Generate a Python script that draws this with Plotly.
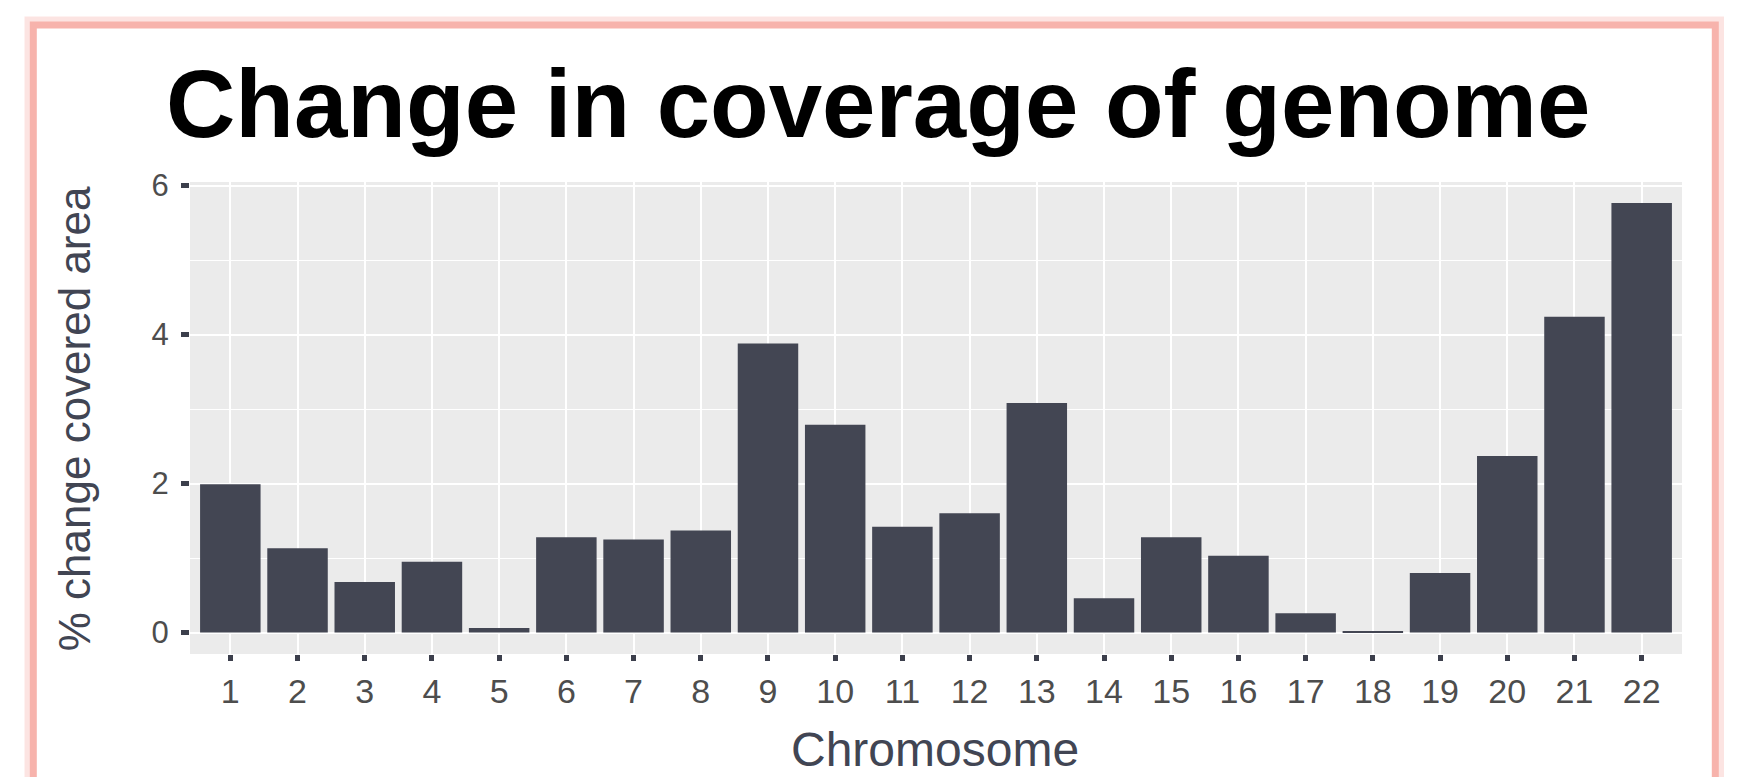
import plotly.graph_objects as go

chromosomes = list(range(1, 23))
pct_change = [1.99, 1.13, 0.68, 0.95, 0.06, 1.28, 1.25, 1.37, 3.88, 2.79, 1.42,
              1.60, 3.08, 0.46, 1.28, 1.03, 0.26, 0.01, 0.80, 2.37, 4.24, 5.765]
y_ticks = [0, 2, 4, 6]
y_minor = [1, 3, 5]

W, H = 1745, 777
L, R, T, B = 190, 1682, 182, 654   # plot area in pixels


def px(x):
    return (x - L) / (R - L)


def py(y):
    return (B - y) / (B - T)


BAR = "#434653"
TXT = "#4D4D4D"
TITLE_C = "#414553"

fig = go.Figure(go.Bar(x=chromosomes, y=pct_change, width=0.9,
                       marker=dict(color=BAR, line=dict(width=0))))

fig.update_layout(
    width=W, height=H,
    margin=dict(l=L, r=W - R, t=T, b=H - B, pad=0),
    paper_bgcolor="white", plot_bgcolor="#EBEBEB",
    showlegend=False,
    font=dict(family="Liberation Sans, Arial, sans-serif"),
    xaxis=dict(range=[0.4, 22.6], tickvals=chromosomes,
               ticktext=[str(c) for c in chromosomes],
               showgrid=True, gridcolor="white", gridwidth=2,
               zeroline=False, showline=False,
               ticks="outside", ticklen=6, tickwidth=5, tickcolor="#3C3F4C",
               tickfont=dict(size=34, color=TXT), ticklabelstandoff=1),
    yaxis=dict(range=[-0.288, 6.048], tickvals=y_ticks,
               showgrid=True, gridcolor="white", gridwidth=2.2,
               zeroline=False, showline=False,
               ticks="outside", ticklen=8, tickwidth=5, tickcolor="#3C3F4C",
               tickfont=dict(size=31, color=TXT), ticklabelstandoff=6,
               minor=dict(tickvals=y_minor, showgrid=True, gridcolor="white",
                          gridwidth=1.1, ticklen=0)),
)

fig.add_annotation(text="<b>Change in coverage of genome</b>", xref="paper", yref="paper",
                   x=px(877.5), y=py(103.4), xanchor="center", yanchor="middle",
                   showarrow=False, font=dict(size=96, color="black"))
fig.add_annotation(text="Chromosome", xref="paper", yref="paper",
                   x=px(935), y=py(749.5), xanchor="center", yanchor="middle",
                   showarrow=False, font=dict(size=48, color=TITLE_C))
fig.add_annotation(text="% change covered area", xref="paper", yref="paper",
                   x=px(74.8), y=py(418.5), xanchor="center", yanchor="middle",
                   textangle=-90, showarrow=False, font=dict(size=44, color=TITLE_C))

# pink frame with soft glow
fig.add_shape(type="rect", xref="paper", yref="paper",
              x0=px(29), x1=px(1719.5), y0=py(820), y1=py(21),
              line=dict(color="rgba(247,179,172,0.35)", width=9), layer="below")
fig.add_shape(type="rect", xref="paper", yref="paper",
              x0=px(33.3), x1=px(1715.3), y0=py(820), y1=py(25),
              line=dict(color="#F7B3AC", width=7), layer="above")

fig.write_html("out.html", config={"displayModeBar": False},
               post_script="document.body.style.margin='0';")
